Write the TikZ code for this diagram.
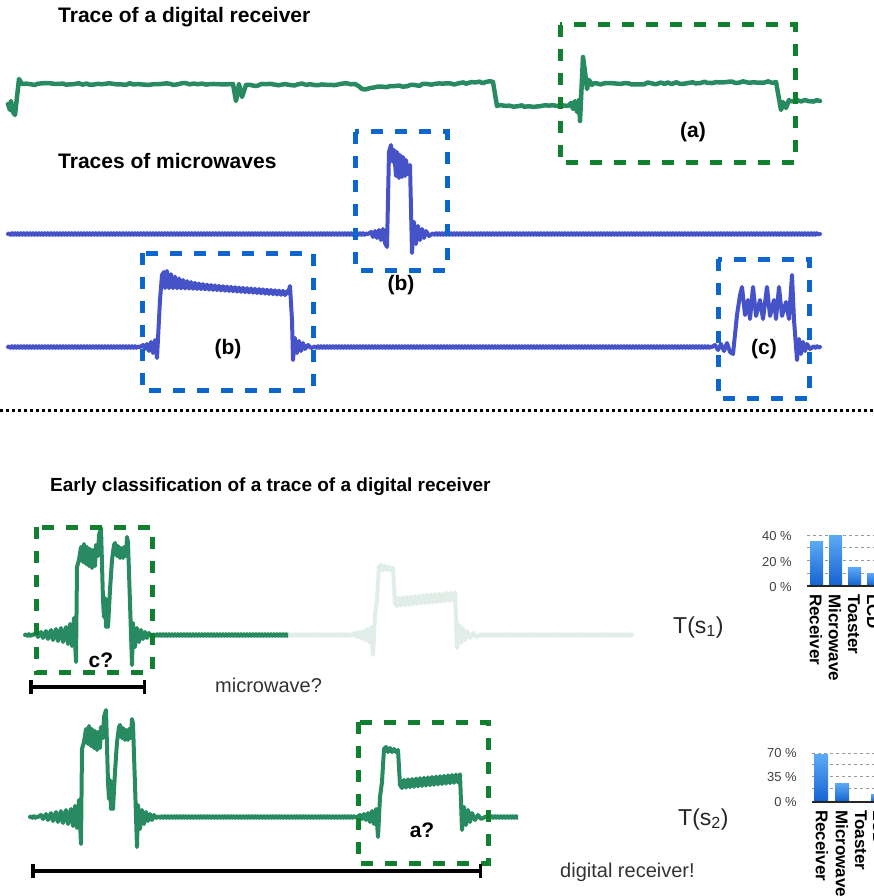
\documentclass[tikz,border=0pt]{standalone}
\usepackage{fontspec}
\setmainfont{Liberation Sans}
\usetikzlibrary{arrows.meta,decorations.pathmorphing}

\definecolor{tracegreen}{RGB}{40,138,96}
\definecolor{faintgreen}{RGB}{224,238,231}
\definecolor{boxgreen}{RGB}{16,128,48}
\definecolor{traceblue}{RGB}{70,82,200}
\definecolor{boxblue}{RGB}{12,102,204}
\definecolor{barlight}{RGB}{92,170,245}
\definecolor{bardark}{RGB}{20,98,208}

\begin{document}
\begin{tikzpicture}[
    x=1pt, y=-1pt,
    heading/.style={anchor=base west,inner sep=0pt,font=\bfseries\fontsize{21}{25}\selectfont},
    boxtag/.style={anchor=base,inner sep=0pt,font=\bfseries\fontsize{21}{25}\selectfont},
    guess/.style={anchor=base west,inner sep=0pt,text=black!80,font=\fontsize{20}{24}\selectfont},
    signame/.style={anchor=base west,inner sep=0pt,text=black!85,font=\fontsize{23}{27}\selectfont},
    pct/.style={anchor=east,inner sep=0pt,text=black!75,font=\fontsize{13}{15}\selectfont},
    barlabel/.style={anchor=west,rotate=-90,inner sep=0pt,font=\bfseries\fontsize{17}{20}\selectfont},
    greentrace/.style={draw=tracegreen,line width=4.5pt,line join=round,line cap=round},
    bluetrace/.style={draw=traceblue,line width=4pt,line join=round,line cap=round},
    sigtrace/.style={draw=tracegreen,line width=4pt,line join=round,line cap=round},
    faint/.style={sigtrace,draw=faintgreen},
    greenbox/.style={draw=boxgreen,line width=5pt,dash pattern=on 12pt off 12pt},
    bluebox/.style={draw=boxblue,line width=5pt,dash pattern=on 12pt off 12pt},
    jitter/.style={decoration={random steps,segment length=4pt,amplitude=1pt}},
    ripple/.style={decoration={snake,amplitude=0.8pt,segment length=3pt}},
    rangebar/.style={arrows={Bar[width=14pt]-Bar[width=14pt]},line width=3.5pt},
    divider/.style={line width=3pt,dash pattern=on 3pt off 3pt},
    gridline/.style={draw=black!40,line width=1pt,dash pattern=on 3pt off 3pt},
    barfill/.style={top color=barlight,bottom color=bardark}
]
\useasboundingbox (0,0) rectangle (874,896);

% Titles
\node[heading] (title1) at (58,23) {Trace of a digital receiver};
\node[heading] (title2) at (58,168) {Traces of microwaves};
\node[heading,font=\bfseries\fontsize{19}{23}\selectfont] (title3) at (50,491) {Early classification of a trace of a digital receiver};

% Digital receiver trace
\draw[greentrace] (8,104) -- (10,110) -- (11,101) -- (13,112) -- (15,115) -- (19,79) -- (22,84)
  decorate[jitter] {(22,84) -- (233,84)}
  (233,84) -- (236,101) -- (239,84) -- (242,97) -- (246,85)
  decorate[jitter] {(246,85) -- (355,84) -- (362,89) -- (395,86) -- (493,82)}
  (493,82) -- (497,106)
  decorate[jitter] {(497,106) -- (568,106)}
  (568,106) -- (571,103) -- (573,109) -- (575,101) -- (577,112) -- (579,100) -- (580,121) -- (583,57) -- (585,72) -- (587,89) -- (589,80) -- (592,85)
  decorate[jitter] {(592,84) -- (776,82)}
  (776,82) -- (781,110) -- (783,102) -- (786,108) -- (789,100)
  decorate[jitter] {(789,101) -- (820,101)};
\draw[greenbox] (560,25) rectangle (795,163);
\node[boxtag] (taga) at (693,138) {(a)};

% Microwave traces
\draw[bluetrace] decorate[ripple] {(8,234) -- (368,234)}
  (368,234) -- (371,232) -- (373,237) -- (375,231) -- (377,238) -- (379,230) -- (381,240) -- (383,229) -- (385,243) -- (387,247)
  -- (389,152) -- (391,145) -- (393,162) -- (394,150) -- (396,176) -- (397,152) -- (399,178) -- (400,155) -- (402,177) -- (403,157)
  -- (405,176) -- (406,160) -- (408,174) -- (410,165) -- (412,253) -- (414,222) -- (416,244) -- (418,226) -- (420,240) -- (422,229)
  -- (424,238) -- (426,231) -- (429,236) -- (432,234)
  decorate[ripple] {(432,234) -- (820,234)};
\draw[bluetrace] decorate[ripple] {(8,347) -- (140,347)}
  (140,347) -- (143,345) -- (145,349) -- (147,344) -- (149,351) -- (151,342) -- (153,353) -- (155,340) -- (157,358) -- (160,300) -- (162,275) -- (164,272)
  -- plot[domain=165:288,samples=124] (\x,{284+0.075*(\x-164)-6*exp(-(\x-164)/12)+(2+8*exp(-(\x-164)/15))*sin(mod(\x,4)*90)})
  -- (290,286) -- (292,320) -- (293,360) -- (295,338) -- (297,353) -- (299,341) -- (301,351) -- (303,343) -- (305,349) -- (308,345) -- (311,348) -- (314,347)
  decorate[ripple] {(314,347) -- (712,347)}
  (712,347) -- (715,345) -- (718,350) -- (721,344) -- (724,351) -- (727,343) -- (730,352) -- (733,354) -- (737,315) -- (740,295) -- (742,287)
  -- (745,315) -- (748,300) -- (750,319) -- (753,287) -- (756,316) -- (760,300) -- (763,319) -- (767,287) -- (770,316) -- (774,300)
  -- (776,319) -- (779,287) -- (782,316) -- (786,302) -- (789,319) -- (792,275) -- (794,320) -- (797,360) -- (799,339) -- (801,354)
  -- (803,342) -- (805,351) -- (807,344) -- (810,349) -- (813,347)
  decorate[ripple] {(813,347) -- (820,347)};
\draw[bluebox] (355,132) rectangle (447,270);
\draw[bluebox] (142,253) rectangle (313,390);
\draw[bluebox] (718,259) rectangle (809,398);
\node[boxtag] (tagb1) at (401,290) {(b)};
\node[boxtag] (tagb2) at (228,354) {(b)};
\node[boxtag] (tagc) at (764,354) {(c)};

% Separator
\draw[divider] (0,410) -- (874,410);

% Traces T(s1) and T(s2)
\foreach \col/\dx/\dy/\xa/\xb in {faint/0/0/288/640, sigtrace/0/0/0/288, sigtrace/5/182/0/513} {
  \begin{scope}[shift={(\dx,\dy)}]
    \clip (\xa,500) rectangle (\xb,700);
    \draw[\col] decorate[ripple] {(25,635) -- (33,635)}
      (33,635) -- (36,633) -- (38,637) -- (41,632) -- (43,638) -- (46,631) -- (48,639) -- (51,630) -- (53,640) -- (56,629) -- (58,641)
      -- (61,628) -- (63,642) -- (66,627) -- (68,644) -- (70,624) -- (72,646) -- (74,618) -- (76,662)
      -- (77,567) -- (79,560) -- (81,547) -- (83,562) -- (84,544) -- (86,564) -- (87,547) -- (89,566) -- (90,549) -- (92,568) -- (93,550)
      -- (95,566) -- (96,545) -- (98,556) -- (99,535) -- (101,528) -- (103,600) -- (104,617) -- (105,598) -- (106,627) -- (107,600)
      -- (108,627) -- (110,590) -- (112,560) -- (114,545) -- (115,543) -- (117,556) -- (118,546) -- (120,558) -- (121,548) -- (123,558)
      -- (124,547) -- (126,556) -- (127,537) -- (128,542) -- (130,603) -- (132,665) -- (133,623) -- (135,647) -- (137,628) -- (139,642)
      -- (141,630) -- (143,639) -- (145,632) -- (147,638) -- (149,633) -- (151,636) -- (153,635)
      decorate[ripple] {(153,635) -- (352,635)}
      (352,635) -- (355,633) -- (357,637) -- (359,632) -- (361,638) -- (363,631) -- (365,640) -- (367,629) -- (369,642) -- (371,627)
      -- (373,655) -- (375,615) -- (377,600) -- (379,567) -- (381,565) -- (383,570) -- (385,566) -- (387,570) -- (389,567) -- (391,570)
      -- (393,568) -- (395,603)
      -- plot[domain=397:455,samples=59] (\x,{602-0.1*(\x-397)+4*sin(mod(\x,4)*90)})
      -- (457,648) -- (459,625) -- (461,643) -- (463,628) -- (465,640) -- (467,631) -- (470,638) -- (473,633) -- (476,637) -- (480,635)
      decorate[ripple] {(480,635) -- (632,635)};
  \end{scope}
}
\draw[greenbox] (36,527) rectangle (152,672);
\draw[greenbox] (358,722) rectangle (488,863);
\node[boxtag] (tagcq) at (101,667) {c?};
\node[boxtag] (tagaq) at (422,837) {a?};

% Spans read so far
\coordinate (span1a) at (29,687);
\coordinate (span1b) at (146,687);
\coordinate (span2a) at (31,871);
\coordinate (span2b) at (482,871);
\draw[rangebar] (span1a) -- (span1b);
\draw[rangebar] (span2a) -- (span2b);
\node[guess] (guess1) at (215,692) {microwave?};
\node[guess] (guess2) at (560,877) {digital receiver!};
\node[signame] (ts1) at (673,633) {T(s\textsubscript{1})};
\node[signame] (ts2) at (678,825) {T(s\textsubscript{2})};

% Class probabilities for T(s1)
\foreach \yy in {535,547,560,573}
  \draw[gridline] (807,\yy) -- (880,\yy);
\shade[barfill] (810,541) rectangle (823,586);
\shade[barfill] (829,535) rectangle (842,586);
\shade[barfill] (848,567) rectangle (861,586);
\shade[barfill] (867,573) rectangle (880,586);
\draw[line width=2pt,black!85] (807,586) -- (880,586);
\node[pct] (p40) at (792,536) {40 \%};
\node[pct] (p20) at (792,562) {20 \%};
\node[pct] (p0a) at (792,587) {0 \%};
\node[barlabel] (rec1) at (816,594) {Receiver};
\node[barlabel] (mic1) at (835,594) {Microwave};
\node[barlabel] (toa1) at (854,594) {Toaster};
\node[barlabel] (lcd1) at (873,594) {LCD};

% Class probabilities for T(s2)
\foreach \yy in {753,764,776,788}
  \draw[gridline] (812,\yy) -- (880,\yy);
\shade[barfill] (814,754) rectangle (828,802);
\shade[barfill] (835,783) rectangle (849,802);
\shade[barfill] (871,794) rectangle (885,802);
\draw[line width=2pt,black!85] (812,802) -- (880,802);
\node[pct] (p70) at (797,753) {70 \%};
\node[pct] (p35) at (797,777) {35 \%};
\node[pct] (p0b) at (797,802) {0 \%};
\node[barlabel] (rec2) at (822,810) {Receiver};
\node[barlabel] (mic2) at (842,810) {Microwave};
\node[barlabel] (toa2) at (861,810) {Toaster};
\node[barlabel] (lcd2) at (879,810) {LCD};

\end{tikzpicture}
\end{document}
